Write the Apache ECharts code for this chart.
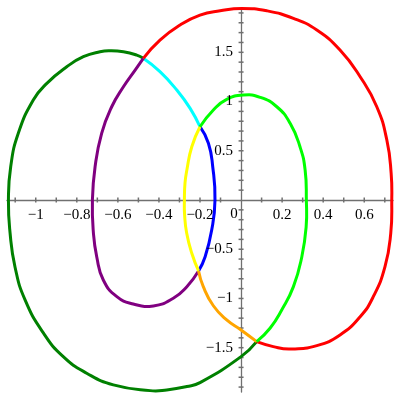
<!DOCTYPE html>
<html>
<head>
<meta charset="utf-8">
<script src="https://cdn.jsdelivr.net/npm/echarts@6/dist/echarts.min.js"></script>
<style>html,body{margin:0;padding:0;background:#fff}#c{width:400px;height:400px}</style>
</head>
<body>
<div id="c"></div>
<script>
// Curve segments (x, y), in drawing order
const segDarkGreen = [[0.076,-1.439],[0,-1.591],[-0.200,-1.855],[-0.264,-1.895],[-0.362,-1.929],[-0.443,-1.936],[-0.622,-1.878],[-0.752,-1.759],[-0.866,-1.591],[-0.963,-1.350],[-1.052,-1.015],[-1.101,-0.680],[-1.125,-0.335],[-1.133,0],[-1.122,0.338],[-1.085,0.677],[-1.012,1.015],[-0.946,1.185],[-0.849,1.353],[-0.768,1.455],[-0.687,1.506],[-0.638,1.516],[-0.573,1.506],[-0.508,1.472],[-0.476,1.439]];
const segCyan = [[-0.476,1.439],[-0.395,1.303],[-0.313,1.117],[-0.248,0.931],[-0.200,0.744]];
const segBlue = [[-0.200,0.744],[-0.159,0.576],[-0.138,0.338],[-0.127,0],[-0.143,-0.305],[-0.175,-0.576],[-0.207,-0.721]];
const segPurple = [[-0.207,-0.721],[-0.264,-0.880],[-0.330,-0.998],[-0.427,-1.076],[-0.525,-1.056],[-0.605,-0.982],[-0.671,-0.812],[-0.703,-0.576],[-0.719,-0.338],[-0.724,0],[-0.711,0.338],[-0.679,0.677],[-0.630,0.947],[-0.573,1.150],[-0.516,1.320],[-0.476,1.439]];
const segRed = [[-0.476,1.439],[-0.395,1.624],[-0.297,1.777],[-0.200,1.878],[-0.102,1.922],[0.003,1.946],[0.125,1.922],[0.255,1.845],[0.369,1.726],[0.482,1.523],[0.580,1.252],[0.661,0.947],[0.710,0.609],[0.731,0.271],[0.734,0],[0.729,-0.338],[0.701,-0.677],[0.644,-0.982],[0.580,-1.185],[0.482,-1.371],[0.369,-1.479],[0.239,-1.513],[0.157,-1.489],[0.076,-1.439]];
const segOrange = [[0.076,-1.439],[0,-1.320],[-0.070,-1.218],[-0.135,-1.074],[-0.184,-0.880],[-0.207,-0.721]];
const segYellow = [[-0.207,-0.721],[-0.240,-0.541],[-0.265,-0.335],[-0.275,-0.152],[-0.276,0],[-0.273,0.173],[-0.264,0.305],[-0.240,0.541],[-0.200,0.744]];
const segLime = [[-0.200,0.744],[-0.135,0.914],[-0.070,1.022],[0.011,1.066],[0.093,1.043],[0.174,0.947],[0.239,0.779],[0.287,0.541],[0.312,0.305],[0.318,0],[0.317,-0.271],[0.296,-0.576],[0.255,-0.880],[0.198,-1.117],[0.141,-1.303],[0.076,-1.439]];

// Axis ticks and labels
const xTicks = [-1.1,-1.0,-0.9,-0.8,-0.7,-0.6,-0.5,-0.4,-0.3,-0.2,-0.1,0.1,0.2,0.3,0.4,0.5,0.6,0.7];
const yTicks = [-1.9,-1.8,-1.7,-1.6,-1.5,-1.4,-1.3,-1.2,-1.1,-1.0,-0.9,-0.8,-0.7,-0.6,-0.5,-0.4,-0.3,-0.2,-0.1,0.1,0.2,0.3,0.4,0.5,0.6,0.7,0.8,0.9,1.0,1.1,1.2,1.3,1.4,1.5,1.6,1.7,1.8,1.9];
const xLabelValues = [-1,-0.8,-0.6,-0.4,-0.2,0.2,0.4,0.6];
const xLabels = ['\u22121','\u22120.8','\u22120.6','\u22120.4','\u22120.2','0.2','0.4','0.6'];
const yLabelValues = [-1.5,-1,-0.5,0.5,1,1.5];
const yLabels = ['\u22121.5','\u22121','\u22120.5','0.5','1','1.5'];
const originLabel = '0';

const AX = '#707070';
const FONT = '15px "Liberation Serif", "DejaVu Serif", serif';

// Each segment drawn as a smooth curve through its points, positioned by the axes' scales
function curveSeries(data, color) {
  return {
    type: 'custom', coordinateSystem: 'cartesian2d', clip: false, silent: true, z: 3,
    data: data,
    renderItem: function (params, api) {
      if (params.dataIndex !== 0) return null;
      const pts = data.map(p => api.coord(p));
      return { type: 'polyline', shape: { points: pts, smooth: 0.5 },
        style: { stroke: color, lineWidth: 3, fill: null } };
    }
  };
}

const tickSeriesX = {
  type: 'custom', coordinateSystem: 'cartesian2d', clip: false, silent: true, z: 2,
  data: xTicks.map(v => [v, 0]),
  renderItem: function (params, api) {
    const p = api.coord([api.value(0), 0]);
    return { type: 'line', shape: { x1: p[0], y1: p[1] - 2.5, x2: p[0], y2: p[1] + 2.5 }, style: { stroke: AX, lineWidth: 1.5 } };
  }
};
const tickSeriesY = {
  type: 'custom', coordinateSystem: 'cartesian2d', clip: false, silent: true, z: 2,
  data: yTicks.map(v => [0, v]),
  renderItem: function (params, api) {
    const p = api.coord([0, api.value(1)]);
    return { type: 'line', shape: { x1: p[0] - 2.5, y1: p[1], x2: p[0] + 2.5, y2: p[1] }, style: { stroke: AX, lineWidth: 1.5 } };
  }
};
const labelSeriesX = {
  type: 'custom', coordinateSystem: 'cartesian2d', clip: false, silent: true, z: 4,
  data: xLabelValues.map((v, i) => [v, 0, i]),
  renderItem: function (params, api) {
    const p = api.coord([api.value(0), 0]);
    return { type: 'text', x: p[0], y: p[1] + 15.5,
      style: { text: xLabels[api.value(2)], font: FONT, fill: '#000', align: 'center', verticalAlign: 'middle', textAlign: 'center', textVerticalAlign: 'middle' } };
  }
};
const labelSeriesY = {
  type: 'custom', coordinateSystem: 'cartesian2d', clip: false, silent: true, z: 4,
  data: yLabelValues.map((v, i) => [0, v, i]),
  renderItem: function (params, api) {
    const p = api.coord([0, api.value(1)]);
    return { type: 'text', x: p[0] - 8, y: p[1],
      style: { text: yLabels[api.value(2)], font: FONT, fill: '#000', align: 'right', verticalAlign: 'middle', textAlign: 'right', textVerticalAlign: 'middle' } };
  }
};
const labelSeriesO = {
  type: 'custom', coordinateSystem: 'cartesian2d', clip: false, silent: true, z: 4,
  data: [[0, 0]],
  renderItem: function (params, api) {
    const p = api.coord([0, 0]);
    return { type: 'text', x: p[0] - 7, y: p[1] + 14,
      style: { text: originLabel, font: FONT, fill: '#000', align: 'center', verticalAlign: 'middle', textAlign: 'center', textVerticalAlign: 'middle' } };
  }
};

const chart = echarts.init(document.getElementById('c'), null, { renderer: 'canvas' });
chart.setOption({
  animation: false,
  backgroundColor: '#ffffff',
  grid: { left: 7, right: 7, top: 8, bottom: 8, containLabel: false },
  xAxis: {
    type: 'value', min: -1.14, max: 0.74,
    axisLine: { onZero: true, lineStyle: { color: AX, width: 1.3 } },
    axisTick: { show: false }, axisLabel: { show: false }, splitLine: { show: false }
  },
  yAxis: {
    type: 'value', min: -1.95, max: 1.95,
    axisLine: { onZero: true, lineStyle: { color: AX, width: 1.3 } },
    axisTick: { show: false }, axisLabel: { show: false }, splitLine: { show: false }
  },
  series: [
    tickSeriesX, tickSeriesY,
    curveSeries(segDarkGreen, '#008000'),
    curveSeries(segCyan, '#00ffff'),
    curveSeries(segBlue, '#0000ff'),
    curveSeries(segPurple, '#800080'),
    curveSeries(segRed, '#ff0000'),
    curveSeries(segOrange, '#ffa500'),
    curveSeries(segYellow, '#ffff00'),
    curveSeries(segLime, '#00ff00'),
    labelSeriesX, labelSeriesY, labelSeriesO
  ]
});
</script>
</body>
</html>
